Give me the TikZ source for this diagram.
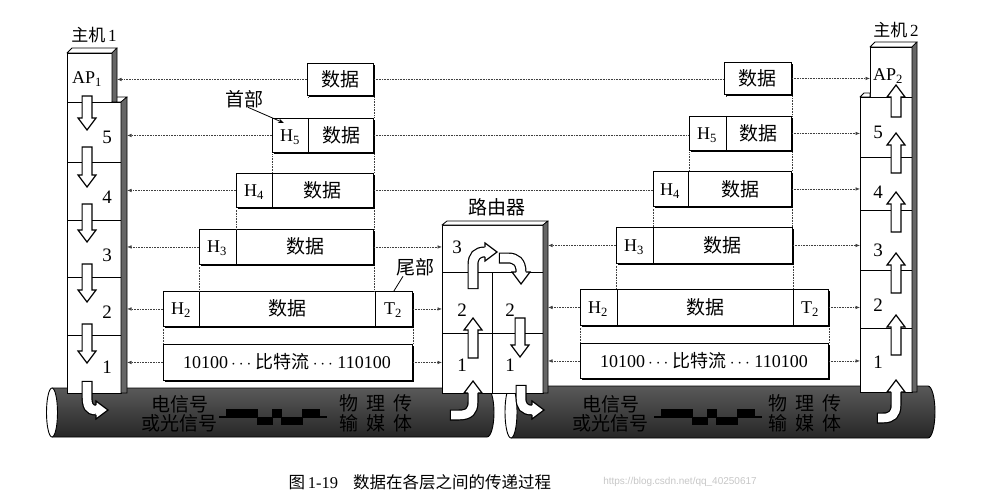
\documentclass[tikz,border=0pt]{standalone}
\usepackage{fontspec}
\setmainfont{Liberation Serif}
\newfontfamily\cjk{Noto Sans CJK SC}
\newfontfamily\wmfont{Liberation Sans}
\usetikzlibrary{arrows.meta,shadows,calc}
\newcommand\fz[1]{\fontsize{#1}{#1}\selectfont}
\newcommand\hollowv[3]{%
  \pgfmathsetmacro\hvb{#3-12*sign(#3-#2)}%
  \draw[hollow] (#1-4.9,#2) -- (#1-4.9,\hvb) -- (#1-9,\hvb) -- (#1,#3) -- (#1+9,\hvb) -- (#1+4.9,\hvb) -- (#1+4.9,#2) -- cycle;}
\newcommand\hollowshaft[1]{\draw[line width=11pt, shorten <=-1.2pt] #1; \draw[white, line width=8.6pt] #1;}
\newcommand\headright[2]{\filldraw[hollow] (#1,#2-4.9) -- (#1,#2-9) -- (#1+12,#2) -- (#1,#2+9) -- (#1,#2+4.9);}
\newcommand\headup[2]{\filldraw[hollow] (#1-4.9,#2) -- (#1-9,#2) -- (#1,#2-12) -- (#1+9,#2) -- (#1+4.9,#2);}
\newcommand\headdown[2]{\filldraw[hollow] (#1-4.9,#2) -- (#1-9,#2) -- (#1,#2+12) -- (#1+9,#2) -- (#1+4.9,#2);}
\newcommand\divline[2]{\draw[line width=0.9pt] ($(#1.north west)+(#2,0)$) -- ($(#1.south west)+(#2,0)$);}
\newcommand\wavesig[1]{%
  \begin{scope}[xshift=#1pt]
  \fill (0,416.3) rectangle (8,417.8);
  \fill (7,409) rectangle (39,417.5);
  \fill (38,416.5) rectangle (54,425);
  \fill (53,409) rectangle (63,417.5);
  \fill (62,416.5) rectangle (84,425);
  \fill (83,409) rectangle (101,417.5);
  \fill (100,416.3) rectangle (108,417.8);
  \end{scope}}
\begin{document}
\begin{tikzpicture}[x=1pt,y=-1pt,
  dl/.style={densely dotted, line width=0.6pt, black!75},
  dla/.style={dl, -{Latex[length=4.5pt,width=3.5pt]}},
  pkt/.style={draw, line width=0.9pt, fill=white, inner sep=0pt, anchor=north west,
    drop shadow={shadow xshift=1.6pt,shadow yshift=-1.6pt,fill=black,opacity=1}},
  lay/.style={draw, line width=0.9pt, fill=white, inner sep=0pt, anchor=north west},
  strip/.style={draw, line width=0.6pt, fill=black!60},
  topf/.style={draw, line width=0.8pt, fill=white, line join=round},
  hollow/.style={draw, fill=white, line width=1.2pt, line join=miter},
  zh/.style={font=\cjk\fz{19}},
  lt/.style={font=\fz{18}},
  num/.style={font=\fz{19}},
  pipetxt/.style={font=\cjk\fz{19}, text=black},
  pipeshade/.style={top color=black!65, middle color=black!48, bottom color=black!85},
]
\useasboundingbox (0,0) rectangle (983,500);
\fill[white] (0,0) rectangle (983,500);

% ---------- pipes ----------
\shade[pipeshade]
  (52,388) -- (487,388) arc[start angle=-90,end angle=90,x radius=7,y radius=24.5] -- (52,437) -- cycle;
\draw[line width=0.9pt] (52,388) -- (487,388) arc[start angle=-90,end angle=90,x radius=7,y radius=24.5] -- (52,437);
\draw[line width=0.9pt, fill=white] (52,412.5) ellipse[x radius=5.5, y radius=24.5];
\shade[pipeshade]
  (511,386) -- (928,386) arc[start angle=-90,end angle=90,x radius=7,y radius=26] -- (511,438) -- cycle;
\draw[line width=0.9pt] (511,386) -- (928,386) arc[start angle=-90,end angle=90,x radius=7,y radius=26] -- (511,438);
\draw[line width=0.9pt, fill=white] (511,412) ellipse[x radius=6, y radius=26];

\node[pipetxt] (pa1) at (180,404) {电信号};
\node[pipetxt] (pa2) at (179,423) {或光信号};
\node[pipetxt] (pa3) at (376,403) {物\hspace{8pt}理\hspace{8pt}传};
\node[pipetxt] (pa4) at (376,423) {输\hspace{8pt}媒\hspace{8pt}体};
\node[pipetxt] (pb1) at (611,404) {电信号};
\node[pipetxt] (pb2) at (610,423) {或光信号};
\node[pipetxt] (pb3) at (805,403) {物\hspace{8pt}理\hspace{8pt}传};
\node[pipetxt] (pb4) at (805,423) {输\hspace{8pt}媒\hspace{8pt}体};
\wavesig{219}
\wavesig{654}

% ---------- packets ----------
\node[pkt, minimum width=66pt, minimum height=32pt] (L0) at (307,63) {};
\node[pkt, minimum width=101pt, minimum height=34pt] (L5) at (272,118) {};
\node[pkt, minimum width=137pt, minimum height=34pt] (L4) at (236,173) {};
\node[pkt, minimum width=174pt, minimum height=35pt] (L3) at (199,229) {};
\node[pkt, minimum width=249pt, minimum height=35pt] (L2) at (163,291) {};
\node[pkt, minimum width=249pt, minimum height=36pt] (L1) at (163,344) {};
\node[pkt, minimum width=67pt, minimum height=32pt] (R0) at (724,62) {};
\node[pkt, minimum width=102pt, minimum height=34pt] (R5) at (689,116) {};
\node[pkt, minimum width=138pt, minimum height=35pt] (R4) at (653,171) {};
\node[pkt, minimum width=176pt, minimum height=36pt] (R3) at (616,227) {};
\node[pkt, minimum width=248pt, minimum height=36pt] (R2) at (580,289) {};
\node[pkt, minimum width=248pt, minimum height=35pt] (R1) at (580,343) {};
\divline{L5}{36}\divline{L4}{36}\divline{L3}{37}\divline{L2}{36}\divline{L2}{212}
\divline{R5}{37}\divline{R4}{35}\divline{R3}{37}\divline{R2}{37}\divline{R2}{213}

\node[zh] (tL0) at (340,79) {数据};
\node[zh] (tL5) at (341,135) {数据};
\node[lt] (hL5) at (290,137) {H\textsubscript{5}};
\node[zh] (tL4) at (322,190) {数据};
\node[lt] (hL4) at (254,192) {H\textsubscript{4}};
\node[zh] (tL3) at (305,246) {数据};
\node[lt] (hL3) at (217,248) {H\textsubscript{3}};
\node[zh] (tL2) at (287,308) {数据};
\node[lt] (hL2) at (181,310) {H\textsubscript{2}};
\node[lt] (eL2) at (393,310) {T\textsubscript{2}};
\node[lt] (bL1) at (287,362) {10100\,$\cdots$\ {\cjk 比特流}\,$\cdots$\ 110100};
\node[zh] (tR0) at (757,78) {数据};
\node[zh] (tR5) at (758,133) {数据};
\node[lt] (hR5) at (707,135) {H\textsubscript{5}};
\node[zh] (tR4) at (740,189) {数据};
\node[lt] (hR4) at (670,191) {H\textsubscript{4}};
\node[zh] (tR3) at (722,245) {数据};
\node[lt] (hR3) at (634,247) {H\textsubscript{3}};
\node[zh] (tR2) at (705,307) {数据};
\node[lt] (hR2) at (598,309) {H\textsubscript{2}};
\node[lt] (eR2) at (810,309) {T\textsubscript{2}};
\node[lt] (bR1) at (704,361) {10100\,$\cdots$\ {\cjk 比特流}\,$\cdots$\ 110100};

% ---------- hosts and router ----------
\node[lay, minimum width=45pt, minimum height=49pt] (H1A) at (67,53) {};
\node[lay, minimum width=54pt, minimum height=60pt] (H15) at (67,102) {};
\node[lay, minimum width=54pt, minimum height=58pt] (H14) at (67,162) {};
\node[lay, minimum width=54pt, minimum height=57pt] (H13) at (67,220) {};
\node[lay, minimum width=54pt, minimum height=58pt] (H12) at (67,277) {};
\node[lay, minimum width=54pt, minimum height=58pt] (H11) at (67,335) {};
\draw[topf] (112,102) -- (117,97) -- (127,97) -- (121,102) -- cycle;
\draw[strip] (121,102) -- (127,97) -- (127,393) -- (121,393) -- cycle;
\draw[topf] (67,53) -- (72,48) -- (117,48) -- (112,53) -- cycle;
\draw[strip] (112,53) -- (117,48) -- (117,102) -- (112,102) -- cycle;
\coordinate (S1a) at (117,0);
\coordinate (S1) at (127,0);

\node[lay, minimum width=42pt, minimum height=50pt] (H2A) at (870,47) {};
\node[lay, minimum width=52pt, minimum height=60pt] (H25) at (860,97) {};
\node[lay, minimum width=52pt, minimum height=53pt] (H24) at (860,157) {};
\node[lay, minimum width=52pt, minimum height=60pt] (H23) at (860,210) {};
\node[lay, minimum width=52pt, minimum height=58pt] (H22) at (860,270) {};
\node[lay, minimum width=52pt, minimum height=64pt] (H21) at (860,328) {};
\draw[topf] (860,97) -- (864,93) -- (870,93) -- (870,97) -- cycle;
\draw[topf] (870,47) -- (875,42) -- (917,42) -- (912,47) -- cycle;
\draw[strip] (912,47) -- (917,42) -- (917,392) -- (912,392) -- cycle;

\node[lay, minimum width=101pt, minimum height=47pt] (RT3) at (442,225) {};
\node[lay, minimum width=50pt, minimum height=61pt] (RT2a) at (442,272) {};
\node[lay, minimum width=51pt, minimum height=61pt] (RT2b) at (492,272) {};
\node[lay, minimum width=50pt, minimum height=60pt] (RT1a) at (442,333) {};
\node[lay, minimum width=51pt, minimum height=60pt] (RT1b) at (492,333) {};
\draw[topf] (442,225) -- (447,221) -- (548,221) -- (543,225) -- cycle;
\draw[strip] (543,225) -- (548,221) -- (548,393) -- (543,393) -- cycle;
\coordinate (RS) at (548,0);

% ---------- dotted connectors ----------
\draw[dla] (L0.west) -- (L0.west -| S1a);
\draw[dla] (L5.west) -- (L5.west -| S1);
\draw[dla] (L4.west) -- (L4.west -| S1);
\draw[dla] (L3.west) -- (L3.west -| S1);
\draw[dla] (L2.west) -- (L2.west -| S1);
\draw[dla] (L1.west) -- (L1.west -| S1);
\draw[dl] (L0.east) -- (L0.east -| R0.west);
\draw[dl] (L5.east) -- (L5.east -| R5.west);
\draw[dl] (L4.east) -- (L4.east -| R4.west);
\draw[dla] (L3.east) -- (L3.east -| RT3.west);
\draw[dla] (L2.east) -- (L2.east -| RT2a.west);
\draw[dla] (L1.east) -- (L1.east -| RT1a.west);
\draw[dla] (R3.west) -- (R3.west -| RS);
\draw[dla] (R2.west) -- (R2.west -| RS);
\draw[dla] (R1.west) -- (R1.west -| RS);
\draw[dla] (R0.east) -- (R0.east -| H2A.west);
\draw[dla] (R5.east) -- (R5.east -| H25.west);
\draw[dla] (R4.east) -- (R4.east -| H24.west);
\draw[dla] (R3.east) -- (R3.east -| H23.west);
\draw[dla] (R2.east) -- (R2.east -| H22.west);
\draw[dla] (R1.east) -- (R1.east -| H21.west);
\draw[dl] ($(L0.south west)+(1,1.6)$) -- ($(L0.south west)+(1,0)$ |- L5.north);
\draw[dl] ($(L0.south east)+(0,1.6)$) -- (L0.south east |- L5.north);
\draw[dl] ($(L5.south west)+(0,1.6)$) -- (L5.south west |- L4.north);
\draw[dl] ($(L5.south east)+(0,1.6)$) -- (L5.south east |- L4.north);
\draw[dl] ($(L4.south west)+(0,1.6)$) -- (L4.south west |- L3.north);
\draw[dl] ($(L4.south east)+(0,1.6)$) -- (L4.south east |- L3.north);
\draw[dl] ($(L3.south west)+(0,1.6)$) -- (L3.south west |- L2.north);
\draw[dl] ($(L3.south east)+(0,1.6)$) -- (L3.south east |- L2.north);
\draw[dl] ($(L2.south west)+(0,1.6)$) -- (L2.south west |- L1.north);
\draw[dl] ($(L2.south east)+(0,1.6)$) -- (L2.south east |- L1.north);
\draw[dl] ($(R0.south west)+(2,1.6)$) -- ($(R0.south west)+(2,0)$ |- R5.north);
\draw[dl] ($(R0.south east)+(0,1.6)$) -- (R0.south east |- R5.north);
\draw[dl] ($(R5.south west)+(0,1.6)$) -- (R5.south west |- R4.north);
\draw[dl] ($(R5.south east)+(0,1.6)$) -- (R5.south east |- R4.north);
\draw[dl] ($(R4.south west)+(0,1.6)$) -- (R4.south west |- R3.north);
\draw[dl] ($(R4.south east)+(0,1.6)$) -- (R4.south east |- R3.north);
\draw[dl] ($(R3.south west)+(0,1.6)$) -- (R3.south west |- R2.north);
\draw[dl] ($(R3.south east)+(0,1.6)$) -- (R3.south east |- R2.north);
\draw[dl] ($(R2.south west)+(0,1.6)$) -- (R2.south west |- R1.north);
\draw[dl] ($(R2.south east)+(0,1.6)$) -- (R2.south east |- R1.north);

% ---------- hollow arrows ----------
\hollowv{87}{96}{130}
\hollowv{87}{147}{187}
\hollowv{87}{204}{242}
\hollowv{87}{264}{302}
\hollowv{87}{324}{363}
\hollowshaft{(87,382) -- (87,396) .. controls (87,406) and (89,410) .. (96,410)}
\headright{96}{410}
\hollowshaft{(451,415) -- (459,415) .. controls (469,415) and (473,411) .. (473,402) -- (473,393)}
\headup{473}{393}
\hollowv{473}{358}{318}
\hollowshaft{(473,288) -- (473,265) .. controls (473,256) and (477,252) .. (485,252)}
\headright{485}{252}
\hollowshaft{(500,258) -- (508,258) .. controls (516,258) and (521,262) .. (521,272)}
\headdown{521}{272}
\hollowv{520}{318}{357}
\hollowshaft{(521,386) -- (521,398) .. controls (521,406) and (524,410) .. (532,410)}
\headright{532}{410}
\hollowv{896}{117}{85}
\hollowv{896}{173}{133}
\hollowv{896}{232}{192}
\hollowv{896}{293}{253}
\hollowv{896}{355}{315}
\hollowshaft{(878,418) -- (883,418) .. controls (892,418) and (896,414) .. (896,405) -- (896,392)}
\headup{896}{392}

% ---------- labels ----------
\node[font=\fz{17}] (host1) at (94,35) {{\cjk 主机}\,1};
\node[font=\fz{17}] (host2) at (896,30) {{\cjk 主机}\,2};
\node[zh] (router) at (497,207) {路由器};
\node[lt] (ap1) at (87,79) {AP\textsubscript{1}};
\node[lt] (ap2) at (888,76) {AP\textsubscript{2}};
\node[num] (n15) at (107,137) {5};
\node[num] (n14) at (107,197) {4};
\node[num] (n13) at (107,255) {3};
\node[num] (n12) at (107,312) {2};
\node[num] (n11) at (107,367) {1};
\node[num] (n25) at (878,132) {5};
\node[num] (n24) at (878,192) {4};
\node[num] (n23) at (878,250) {3};
\node[num] (n22) at (878,305) {2};
\node[num] (n21) at (878,362) {1};
\node[num] (r3) at (457,247) {3};
\node[num] (r2a) at (462,310) {2};
\node[num] (r2b) at (510,310) {2};
\node[num] (r1a) at (462,365) {1};
\node[num] (r1b) at (510,365) {1};

\node[zh] (shoubu) at (244,99) {首部};
\draw[line width=0.8pt, -{Stealth[length=6pt,width=4.5pt]}] ($(shoubu.south)+(4,-4)$) -- ($(L5.north west)+(12,5)$);
\node[zh] (weibu) at (415,267) {尾部};
\draw[line width=0.8pt] ($(weibu.south)+(-12,-3)$) -- ($(L2.north east)+(-19,0)$);

\node[anchor=west, font=\fz{16.5}] (cap) at (285,482) {{\cjk 图}\,1-19\hspace{15pt}{\cjk 数据在各层之间的传递过程}};
\node[font=\wmfont\fz{10}, text=black!22] (wm) at (680,482) {https://blog.csdn.net/qq\_40250617};
\end{tikzpicture}
\end{document}
